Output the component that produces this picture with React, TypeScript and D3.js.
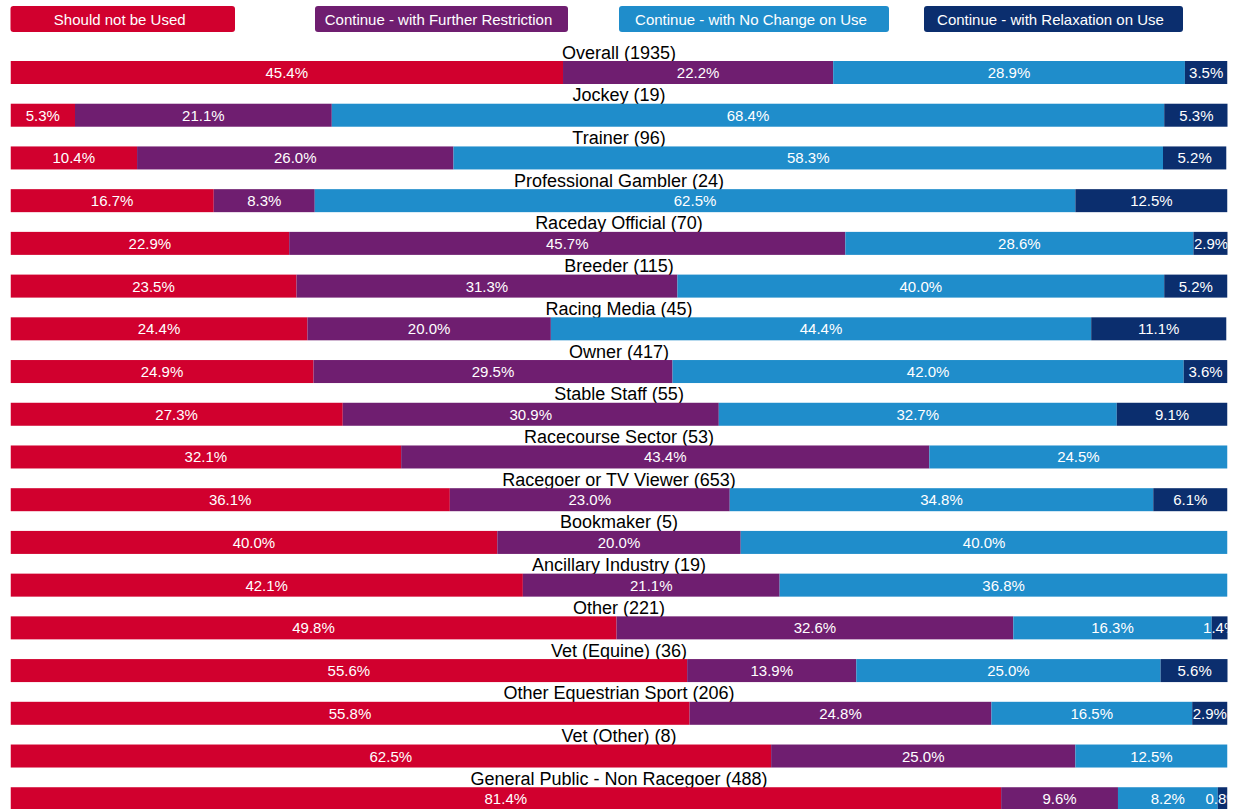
import React from "react";
import * as d3 from "d3";

const categories = [
  "Overall (1935)",
  "Jockey (19)",
  "Trainer (96)",
  "Professional Gambler (24)",
  "Raceday Official (70)",
  "Breeder (115)",
  "Racing Media (45)",
  "Owner (417)",
  "Stable Staff (55)",
  "Racecourse Sector (53)",
  "Racegoer or TV Viewer (653)",
  "Bookmaker (5)",
  "Ancillary Industry (19)",
  "Other (221)",
  "Vet (Equine) (36)",
  "Other Equestrian Sport (206)",
  "Vet (Other) (8)",
  "General Public - Non Racegoer (488)",
];

const seriesNames = [
  "Should not be Used",
  "Continue - with Further Restriction",
  "Continue - with No Change on Use",
  "Continue - with Relaxation on Use",
];

const shouldNotBeUsed = [45.4, 5.3, 10.4, 16.7, 22.9, 23.5, 24.4, 24.9, 27.3, 32.1, 36.1, 40.0, 42.1, 49.8, 55.6, 55.8, 62.5, 81.4];
const furtherRestriction = [22.2, 21.1, 26.0, 8.3, 45.7, 31.3, 20.0, 29.5, 30.9, 43.4, 23.0, 20.0, 21.1, 32.6, 13.9, 24.8, 25.0, 9.6];
const noChange = [28.9, 68.4, 58.3, 62.5, 28.6, 40.0, 44.4, 42.0, 32.7, 24.5, 34.8, 40.0, 36.8, 16.3, 25.0, 16.5, 12.5, 8.2];
const relaxation = [3.5, 5.3, 5.2, 12.5, 2.9, 5.2, 11.1, 3.6, 9.1, 0, 6.1, 0, 0, 1.4, 5.6, 2.9, 0, 0.8];

const colors = ["#D1002E", "#6F1E70", "#1F8DCB", "#0B2E6E"];

const legendBoxes = [
  { x: 10.5, w: 224.5 },
  { x: 315, w: 253 },
  { x: 619, w: 270 },
  { x: 924, w: 259 },
];

const W = 1234;
const H = 809;
const FONT = "'Liberation Sans', Arial, Helvetica, sans-serif";

export default function App() {
  const x = d3.scaleLinear().domain([0, 100]).range([10.5, 1227.5]);
  const step = 42.72;
  const bh = 23;
  const y = d3
    .scaleBand<string>()
    .domain(categories)
    .range([61, 61 + 17 * step + bh])
    .paddingInner((step - bh) / step)
    .paddingOuter(0)
    .align(0);

  const rows = categories.map((c, i) => ({
    cat: c,
    vals: [shouldNotBeUsed[i], furtherRestriction[i], noChange[i], relaxation[i]],
  }));
  const stack = d3
    .stack<any>()
    .keys(["0", "1", "2", "3"])
    .value((d: any, k: string) => d.vals[+k]);
  const stacked = stack(rows);

  return (
    <svg
      width={W}
      height={H}
      style={{ position: "absolute", left: 0, top: 0, background: "#fff" }}
      fontFamily={FONT}
    >
      <defs>
        <clipPath id="plotclip">
          <rect x={x(0)} y={0} width={x(100) - x(0)} height={H} />
        </clipPath>
      </defs>
      {legendBoxes.map((b, i) => (
        <g key={i}>
          <rect x={b.x} y={6} width={b.w} height={26} rx={3} fill={colors[i]} />
          <text
            x={b.x + b.w / 2 - 3}
            y={24.5}
            textAnchor="middle"
            fontSize={15}
            fill="#fff"
          >
            {seriesNames[i]}
          </text>
        </g>
      ))}
      {categories.map((c) => (
        <text
          key={c}
          x={(x(0) + x(100)) / 2}
          y={(y(c) as number) - 2.5}
          textAnchor="middle"
          fontSize={18}
          fill="#000"
        >
          {c}
        </text>
      ))}
      <g clipPath="url(#plotclip)">
        {stacked.map((layer, si) =>
          layer.map((seg, ri) => {
            const v = rows[ri].vals[si];
            if (!v) return null;
            const x0 = x(seg[0]);
            const x1 = x(seg[1]);
            const yy = y(rows[ri].cat) as number;
            return (
              <g key={`${si}-${ri}`}>
                <rect x={x0} y={yy} width={x1 - x0} height={y.bandwidth()} fill={colors[si]} />
                <text
                  x={(x0 + x1) / 2}
                  y={yy + y.bandwidth() / 2 + 5.5}
                  textAnchor="middle"
                  fontSize={15}
                  fill="#fff"
                >
                  {v.toFixed(1) + "%"}
                </text>
              </g>
            );
          })
        )}
      </g>
    </svg>
  );
}
